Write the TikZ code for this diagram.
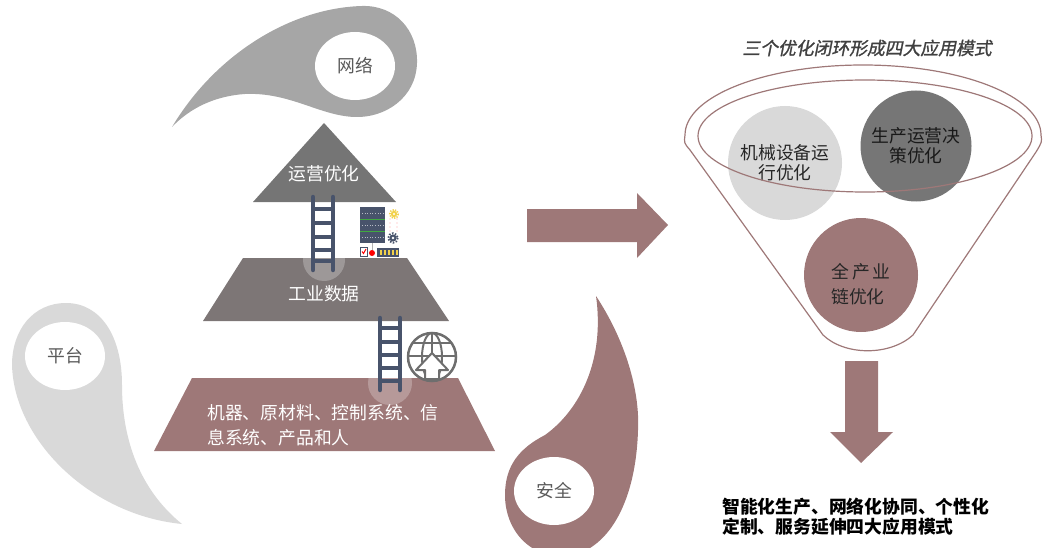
\documentclass[tikz,border=0pt]{standalone}
\usepackage{fontspec}
\setmainfont{Noto Sans CJK SC}
\newfontfamily\titlefont[FakeSlant=0.2,FakeBold=1.2]{Noto Sans CJK SC}
\usetikzlibrary{shapes.geometric}
\definecolor{rose}{HTML}{9E7878}
\definecolor{paleg}{HTML}{D9D9D9}
\definecolor{netg}{HTML}{A6A6A6}
\definecolor{topg}{HTML}{757575}
\definecolor{midg}{HTML}{7D7676}
\definecolor{deepg}{HTML}{767676}
\definecolor{rackblue}{HTML}{48536B}
\definecolor{globeg}{HTML}{6E6E6E}
\definecolor{txtg}{HTML}{595959}
\definecolor{gold}{HTML}{F2D14A}
\newcommand{\labelsize}{\fontsize{17.8}{20}\selectfont}

\begin{document}
\begin{tikzpicture}[x=1pt,y=-1pt,font=\labelsize,
  drop/.style={ellipse, fill=white, minimum width=80pt, minimum height=68pt, inner sep=0pt, text=txtg},
  rail/.style={rackblue, line width=4.5pt, line cap=round},
  rung/.style={rackblue, line width=3.5pt},
  fcirc/.style={circle, minimum size=114pt, inner sep=0pt},
  ftext/.style={align=center, inner sep=0pt, text=black!85}]
\useasboundingbox (0,0) rectangle (1043,548);

% the three drops
\begin{scope}
  \clip (0,0) rectangle (1043,548);
  \fill[netg] (172,127) .. controls (215,55) and (290,8) .. (362,6)
    .. controls (395,5) and (418,30) .. (417,63)
    .. controls (416,98) and (385,118) .. (355,117)
    .. controls (320,116) and (290,92) .. (245,94)
    .. controls (215,96) and (190,108) .. (172,127) -- cycle;
  \fill[paleg] (182,524) .. controls (140,490) and (122,440) .. (122,385)
    .. controls (122,335) and (100,303) .. (66,303)
    .. controls (33,303) and (12,330) .. (12,365)
    .. controls (14,440) and (90,515) .. (182,524) -- cycle;
  \fill[rose] (596,296) .. controls (625,340) and (640,390) .. (638,430)
    .. controls (636,500) and (610,548) .. (570,556)
    .. controls (530,560) and (505,530) .. (505,495)
    .. controls (505,465) and (520,448) .. (545,435)
    .. controls (580,410) and (605,360) .. (596,296) -- cycle;
\end{scope}
\node (net) at (355,66) [drop] {网络};
\node (plat) at (65,356) [drop] {平台};
\node (safe) at (554,491) [drop] {安全};

% pyramid
\fill[topg] (324,123) -- (396,202) -- (253,202) -- cycle;
\fill[midg] (243,258) -- (407,258) -- (449,321) -- (203,321) -- cycle;
\fill[rose] (192,378) -- (458,378) -- (495,451) -- (154,451) -- cycle;
\node (ops) at (324,174) [text=white] {运营优化};
\node (data) at (324,294) [text=white] {工业数据};
\node (base) at (207,425) [anchor=west, align=left, inner sep=0pt, text=white,
  font=\fontsize{17.8}{25}\selectfont] {机器、原材料、控制系统、信\\息系统、产品和人};

% ladders
\fill[white, opacity=.25] (324,260) circle (21);
\fill[white, opacity=.25] (390,383) circle (22);
\foreach \x in {313,333} \draw[rail] (\x,197) -- (\x,270);
\foreach \y in {209,223,237,250,261} \draw[rung] (313,\y) -- (333,\y);
\foreach \x in {380,400} \draw[rail] (\x,318) -- (\x,390);
\foreach \y in {328,342,355,368,381} \draw[rung] (380,\y) -- (400,\y);

% server rack
\foreach \k in {0,1,2} {
  \fill[rackblue] (360,207+12*\k) rectangle (385,218.5+12*\k);
  \draw[white!60!rackblue, line width=.8pt, dash pattern=on 1pt off 1.6pt] (362,213+12*\k) -- (384,213+12*\k);
}
\draw[green!55!black!75, line width=1pt] (360,219) -- (385,219) (360,231) -- (385,231);
\foreach \y in {219,223,227,231} \fill[red!35] (390,\y) circle (.6) (397,\y) circle (.6);
\fill[gold] (394,214) circle (3.2);
\draw[gold, line width=1.6pt, dash pattern=on 1.3pt off 1.3pt] (394,214) circle (4.3);
\fill[white] (394,214) circle (1.1);
\fill[rackblue] (393,238) circle (3.6);
\draw[rackblue, line width=1.8pt, dash pattern=on 1.5pt off 1.5pt] (393,238) circle (4.8);
\fill[white] (393,238) circle (1.3);
\draw[gray!60, line width=.8pt] (372,243) -- (372,250);
\filldraw[fill=white, draw=rackblue, line width=1pt] (360.5,247.5) rectangle (367,256);
\draw[red, line width=1pt] (362,251.5) -- (363.5,253.5) -- (366,249);
\fill[red] (372,253) circle (3);
\fill[rackblue] (377,247.5) rectangle (399,256.5);
\foreach \i in {0,...,4} \fill[gold] (379.5+4*\i,249.5) rectangle (381.8+4*\i,254.5);

% globe with upload arrow
\begin{scope}[shift={(432,357)}, globeg, line width=2pt]
  \node (globe) at (0,0) [circle, draw, line width=2.5pt, minimum size=48pt] {};
  \draw (0,-24) -- (0,24) (-19.5,-14) -- (19.5,-14) (-24,-1) -- (24,-1);
  \draw (0,0) ellipse [x radius=10, y radius=24];
  \filldraw[fill=white, line join=round] (0,-4) -- (16,13) -- (7,13) -- (7,22)
    -- (-7,22) -- (-7,13) -- (-16,13) -- cycle;
\end{scope}

% arrows
\fill[rose] (527,209) -- (637,209) -- (637,193) -- (668,225) -- (637,258)
  -- (637,242) -- (527,242) -- cycle;
\fill[rose] (845,361) -- (878,361) -- (878,432) -- (893,432) -- (861,463)
  -- (830,432) -- (845,432) -- cycle;

% funnel
\node (title) at (867,48) [text=black!75] {\titlefont 三个优化闭环形成四大应用模式};
\draw[rose, line width=1.2pt] (690,150) .. controls (684,143) .. (685,135)
  arc[start angle=180, end angle=360, x radius=178, y radius=70]
  .. controls (1042,142) .. (1036,152) -- (913,335)
  .. controls (890,356) and (845,356) .. (823,335) -- cycle;
\node (mach) at (785,163) [fcirc, fill=paleg] {};
\node (deci) at (916,146) [fcirc, fill=deepg, minimum size=111pt] {};
\node (chain) at (861,275) [fcirc, fill=rose] {};
\node (macht) at (mach) [ftext] {机械设备运\\行优化};
\node (decit) at (deci) [ftext, text=black!90] {生产运营决\\策优化};
\node (chaint) at (861,284) [ftext, align=left, font=\fontsize{17.8}{25}\selectfont] {全\,产\,业\\链优化};
\draw[rose, line width=1.2pt] (865,136) ellipse [x radius=167, y radius=56];

\node (modes) at (722,517) [anchor=west, align=left, inner sep=0pt, font=\labelsize\bfseries]
  {智能化生产、网络化协同、个性化\\定制、服务延伸四大应用模式};
\end{tikzpicture}
\end{document}
